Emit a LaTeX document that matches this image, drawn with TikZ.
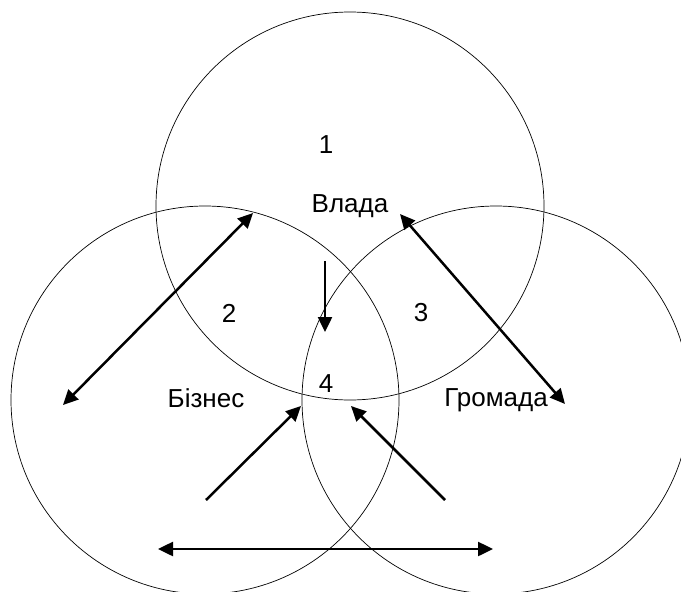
\documentclass[tikz,border=0pt]{standalone}
\usepackage{fontspec}
\setmainfont{Liberation Sans}
\usetikzlibrary{arrows.meta}
\begin{document}
\begin{tikzpicture}[x=1pt,y=-1pt,
  ring/.style={draw=black,line width=0.7pt,circle,minimum size=388pt,inner sep=0pt},
  lbl/.style={font=\fontsize{26}{30}\selectfont,inner sep=0pt},
  arr/.style={line width=2.5pt,-{Triangle[length=15pt,width=14pt]}},
  darr/.style={line width=2.5pt,{Triangle[length=15pt,width=14pt]}-{Triangle[length=15pt,width=14pt]}}]
\useasboundingbox (0,0) rectangle (681,592);
\begin{scope}
\clip (0,0) rectangle (681,592);
\node[ring] (top) at (350,206) {};
\node[ring] (left) at (205,400) {};
\node[ring] (right) at (496,400) {};
\end{scope}
\node[lbl] (n1) at (326,145) {1};
\node[lbl] (vlada) at (350,206) {Влада};
\node[lbl] (n2) at (229,313) {2};
\node[lbl] (n3) at (421,313) {3};
\node[lbl] (n4) at (326,384) {4};
\node[lbl] (biznes) at (206,398) {Бізнес};
\node[lbl] (gromada) at (496,400) {Громада};
\coordinate (a1s) at (63,405);
\coordinate (a1e) at (253,213);
\coordinate (a2s) at (325,261);
\coordinate (a2e) at (325,332);
\coordinate (a3s) at (400,214);
\coordinate (a3e) at (565,404);
\coordinate (a4s) at (206,500);
\coordinate (a4e) at (301,406);
\coordinate (a5s) at (445,500);
\coordinate (a5e) at (351,406);
\coordinate (a6s) at (158,549);
\coordinate (a6e) at (493,549);
\draw[darr] (a1s) -- (a1e);
\draw[arr] (a2s) -- (a2e);
\draw[darr] (a3s) -- (a3e);
\draw[arr] (a4s) -- (a4e);
\draw[arr] (a5s) -- (a5e);
\draw[darr] (a6s) -- (a6e);
\end{tikzpicture}
\end{document}
